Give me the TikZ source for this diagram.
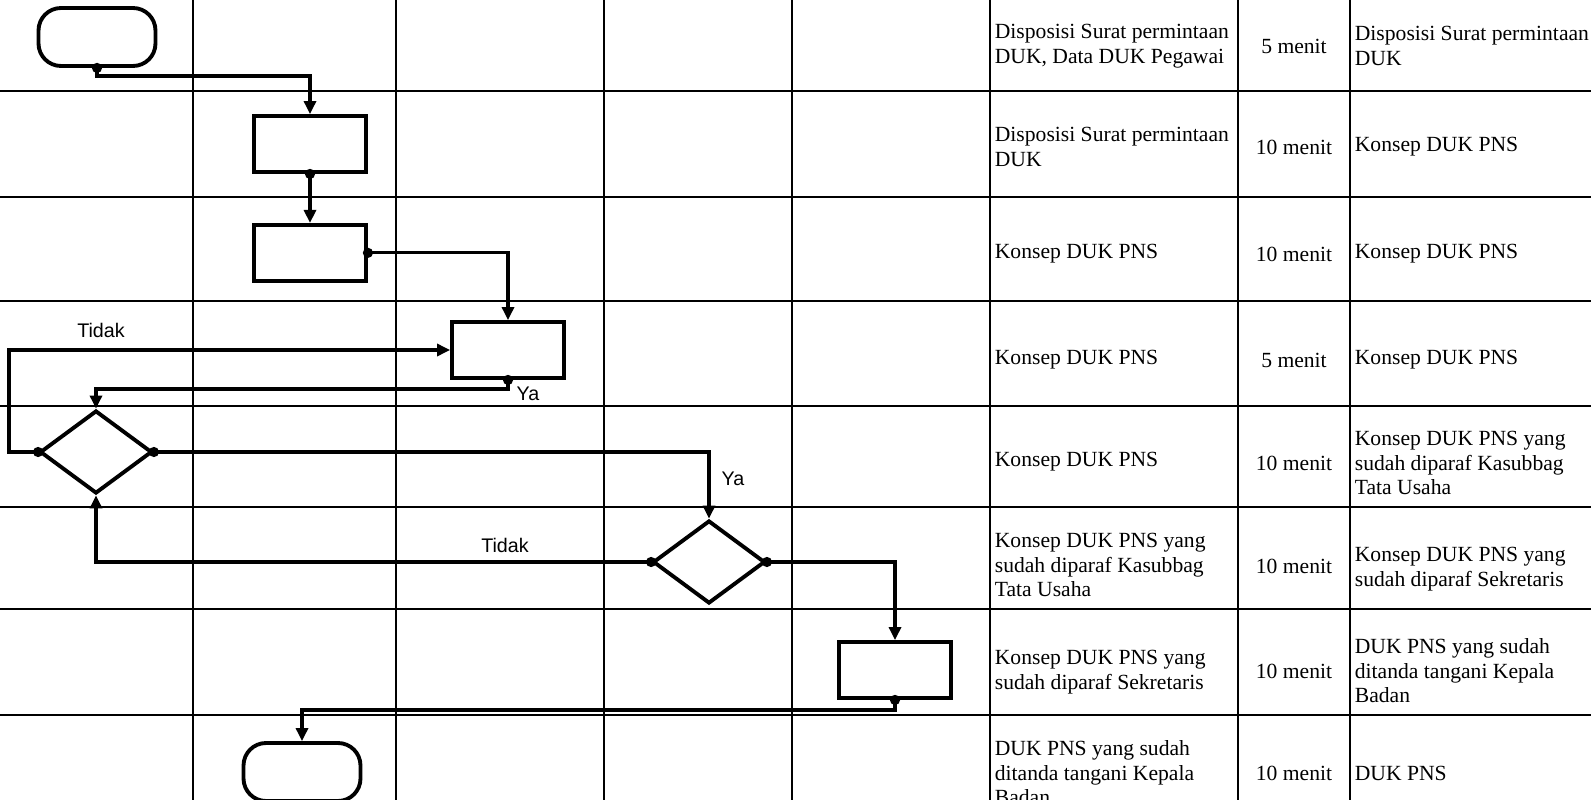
\documentclass[tikz,border=0pt]{standalone}
\usepackage{fontspec}
\setmainfont{Liberation Serif}
\newfontfamily\labelfont{Liberation Sans}
\usetikzlibrary{arrows.meta,positioning,shapes.geometric,calc}

\begin{document}
\begin{tikzpicture}[
  x=0.02cm, y=-0.02cm,
  font=\fontsize{12.3}{14}\selectfont,
  lane/.style={line width=1pt},
  term/.style={draw, line width=2.2pt, rounded corners=4.5mm,
               minimum width=23.4mm, minimum height=11.6mm},
  proc/.style={draw, line width=2.2pt, minimum width=22.4mm, minimum height=11.2mm},
  dec/.style={draw, diamond, line width=2.2pt, inner sep=0pt,
              minimum width=22.4mm, minimum height=16.6mm},
  flow/.style={line width=1.8pt, shorten <=-1mm,
               {Circle[length=2mm]}-{Triangle[length=2.6mm,width=2.4mm]}},
  cell/.style={anchor=west, align=left, inner sep=2pt},
  dur/.style={align=center, inner sep=2pt},
  lbl/.style={font=\labelfont\fontsize{11.2}{13}\selectfont, inner sep=0pt},
]
\clip (0,0) rectangle (1591,800);

% lanes and rows
\draw[lane] (193,0) -- (193,800) (396,0) -- (396,800) (604,0) -- (604,800)
            (792,0) -- (792,800) (990,0) -- (990,800) (1238,0) -- (1238,800)
            (1350,0) -- (1350,800);
\draw[lane] (0,91) -- (1591,91) (0,197) -- (1591,197) (0,301) -- (1591,301)
            (0,406) -- (1591,406) (0,507) -- (1591,507) (0,609) -- (1591,609)
            (0,715) -- (1591,715);

% flow symbols
\node[term] (start) at (97,37) {};
\node[proc] (b1) at (310,144) {};
\node[proc, below=9.8mm of b1] (b2) {};
\node[proc] (b3) at (508,350) {};
\node[dec] (d1) at (96,452) {};
\node[dec] (d2) at (709,562) {};
\node[proc] (b4) at (895,670) {};
\node[term] (end) at (302,772) {};

\node[lbl] (no1) at (101,330) {Tidak};
\node[lbl] (yes1) at (528,394) {Ya};
\node[lbl] (yes2) at (733,479) {Ya};
\node[lbl] (no2) at (505,545) {Tidak};

\draw[flow] (start.south) -- ++(0,8) -| (b1.north);
\draw[flow] (b1.south) -- (b2.north);
\draw[flow] (b2.east) -| (b3.north);
\draw[flow] (b3.south) -- ++(0,9) -| (d1.north);
\draw[flow] (d1.west) -- ++(-29,0) |- (b3.west);
\draw[flow] (d1.east) -| (d2.north);
\draw[flow] (d2.west) -| (d1.south);
\draw[flow] (d2.east) -| (b4.north);
\draw[flow] (b4.south) -- ++(0,10) -| (end.north);

% table: input, time, output
\node[cell] (in1) at (991,46) {Disposisi Surat permintaan\\DUK, Data DUK Pegawai};
\node[dur] (t1) at (1294,46) {5 menit};
\node[cell] (out1) at (1351,46) {Disposisi Surat permintaan\\DUK};

\node[cell] (in2) at (991,147) {Disposisi Surat permintaan\\DUK};
\node[dur] (t2) at (1294,147) {10 menit};
\node[cell] (out2) at (1351,147) {Konsep DUK PNS};

\node[cell] (in3) at (991,254) {Konsep DUK PNS};
\node[dur] (t3) at (1294,254) {10 menit};
\node[cell] (out3) at (1351,254) {Konsep DUK PNS};

\node[cell] (in4) at (991,360) {Konsep DUK PNS};
\node[dur] (t4) at (1294,360) {5 menit};
\node[cell] (out4) at (1351,360) {Konsep DUK PNS};

\node[cell] (in5) at (991,462) {Konsep DUK PNS};
\node[dur] (t5) at (1294,463) {10 menit};
\node[cell] (out5) at (1351,463) {Konsep DUK PNS yang\\sudah diparaf Kasubbag\\Tata Usaha};

\node[cell] (in6) at (991,565) {Konsep DUK PNS yang\\sudah diparaf Kasubbag\\Tata Usaha};
\node[dur] (t6) at (1294,566) {10 menit};
\node[cell] (out6) at (1351,569) {Konsep DUK PNS yang\\sudah diparaf Sekretaris};

\node[cell] (in7) at (991,672) {Konsep DUK PNS yang\\sudah diparaf Sekretaris};
\node[dur] (t7) at (1294,671) {10 menit};
\node[cell] (out7) at (1351,671) {DUK PNS yang sudah\\ditanda tangani Kepala\\Badan};

\node[cell] (in8) at (991,773) {DUK PNS yang sudah\\ditanda tangani Kepala\\Badan};
\node[dur] (t8) at (1294,773) {10 menit};
\node[cell] (out8) at (1351,773) {DUK PNS};
\end{tikzpicture}
\end{document}
